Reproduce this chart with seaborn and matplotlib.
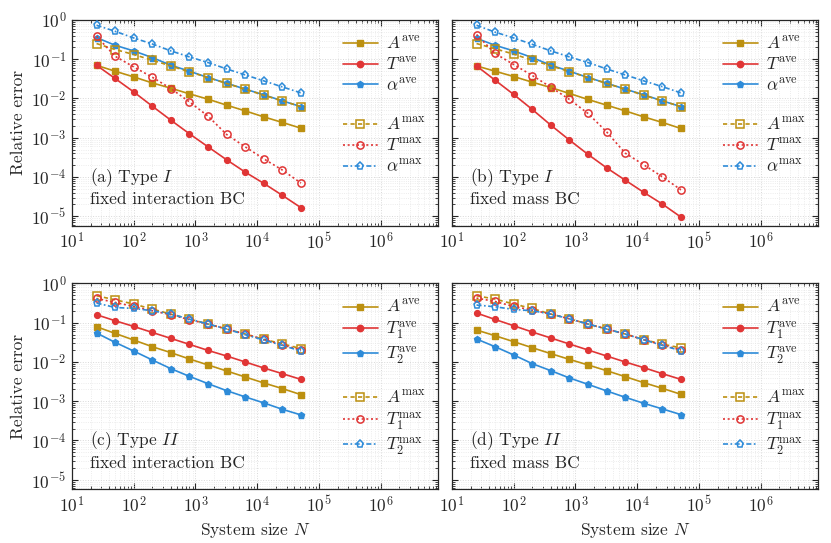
import numpy as np
import pandas as pd
import matplotlib
matplotlib.use("Agg")
import matplotlib.pyplot as plt
from matplotlib.lines import Line2D
from matplotlib.ticker import LogLocator, NullFormatter
import seaborn as sns

# system sizes
N = [25, 50, 100, 200, 400, 800, 1600, 3200, 6400, 12800, 25600, 51200]

# (a) type I, fixed interaction BC
a_A_ave = [0.070, 0.0495, 0.0355, 0.0249, 0.0183, 0.0131, 0.0096, 0.00676, 0.00483, 0.0034, 0.00245, 0.00175]
a_T_ave = [0.0703, 0.0323, 0.0147, 0.00637, 0.0028, 0.00126, 0.000586, 0.000274, 0.000133, 6.87e-5, 3.4e-5, 1.65e-5]
a_al_ave = [0.356, 0.227, 0.163, 0.110, 0.0703, 0.0495, 0.0342, 0.0245, 0.0173, 0.0124, 0.0087, 0.0062]
a_A_max = [0.251, 0.177, 0.132, 0.0944, 0.0676, 0.0475, 0.0342, 0.0241, 0.0173, 0.0121, 0.0087, 0.0062]
a_T_max = [0.385, 0.119, 0.0637, 0.0348, 0.0179, 0.00818, 0.00355, 0.00121, 0.000586, 0.00029, 0.00015, 7.0e-5]
a_al_max = [0.733, 0.515, 0.348, 0.245, 0.163, 0.1146, 0.0824, 0.0566, 0.0399, 0.0281, 0.0197, 0.0139]

# (b) type I, fixed mass BC
b_A_ave = [0.0676, 0.0495, 0.0363, 0.026, 0.019, 0.0134, 0.00944, 0.00676, 0.00483, 0.0034, 0.00245, 0.00172]
b_T_ave = [0.0676, 0.0292, 0.01265, 0.00525, 0.00209, 0.00087, 0.000376, 0.000171, 8.3e-5, 4.05e-5, 2.04e-5, 9.5e-6]
b_al_ave = [0.34, 0.227, 0.163, 0.110, 0.0703, 0.0495, 0.0342, 0.0245, 0.0173, 0.0124, 0.0087, 0.0062]
b_A_max = [0.251, 0.185, 0.135, 0.0944, 0.0685, 0.048, 0.0342, 0.0241, 0.0173, 0.0121, 0.0087, 0.0062]
b_T_max = [0.425, 0.14, 0.0733, 0.0385, 0.0194, 0.00944, 0.00415, 0.00141, 0.000405, 0.000204, 0.000101, 4.7e-5]
b_al_max = [0.733, 0.49, 0.348, 0.24, 0.163, 0.1146, 0.0824, 0.0566, 0.0399, 0.0281, 0.0200, 0.0139]

# (c) type II, fixed interaction BC
c_A_ave = [0.079, 0.0535, 0.0363, 0.0245, 0.0173, 0.0119, 0.0084, 0.0059, 0.00415, 0.00292, 0.0021, 0.00147]
c_T1_ave = [0.16, 0.1125, 0.0805, 0.0566, 0.0399, 0.0281, 0.0197, 0.0142, 0.0100, 0.00703, 0.00504, 0.0036]
c_T2_ave = [0.0547, 0.0316, 0.019, 0.01125, 0.00676, 0.0043, 0.0028, 0.00186, 0.00129, 0.000906, 0.000622, 0.000448]
c_A_max = [0.486, 0.385, 0.299, 0.223, 0.166, 0.124, 0.0927, 0.0692, 0.0516, 0.0376, 0.0292, 0.0218]
c_T1_max = [0.415, 0.329, 0.26, 0.202, 0.16, 0.119, 0.0927, 0.0692, 0.0516, 0.0376, 0.0271, 0.0202]
c_T2_max = [0.317, 0.245, 0.231, 0.202, 0.166, 0.124, 0.0927, 0.0692, 0.0495, 0.0363, 0.0264, 0.019]

# (d) type II, fixed mass BC
d_A_ave = [0.0652, 0.0467, 0.0329, 0.0231, 0.0163, 0.01164, 0.0084, 0.006, 0.00423, 0.00297, 0.00213, 0.0015]
d_T1_ave = [0.177, 0.121, 0.0839, 0.058, 0.0408, 0.0287, 0.0202, 0.0142, 0.0100, 0.00716, 0.00504, 0.0036]
d_T2_ave = [0.0385, 0.0245, 0.0151, 0.00906, 0.006, 0.00392, 0.00269, 0.00183, 0.00126, 0.000885, 0.000637, 0.000456]
d_A_max = [0.486, 0.401, 0.299, 0.231, 0.166, 0.126, 0.0927, 0.0692, 0.0516, 0.0369, 0.0287, 0.0227]
d_T1_max = [0.425, 0.348, 0.26, 0.21, 0.166, 0.126, 0.0927, 0.0692, 0.0516, 0.0369, 0.0271, 0.0202]
d_T2_max = [0.282, 0.255, 0.218, 0.202, 0.166, 0.126, 0.0927, 0.0692, 0.0516, 0.0369, 0.0264, 0.0194]

GOLD = "#BC9010"
RED = "#E03535"
BLUE = "#2E8BD8"
FS = 12.5

sns.set_style("ticks")
plt.rcParams.update({
    "font.family": "serif",
    "font.serif": ["cmr10", "DejaVu Serif"],
    "mathtext.fontset": "cm",
    "axes.formatter.use_mathtext": True,
    "axes.unicode_minus": False,
    "font.size": FS,
    "axes.labelsize": FS,
    "xtick.labelsize": FS,
    "ytick.labelsize": FS,
    "axes.linewidth": 0.9,
    "xtick.direction": "in",
    "ytick.direction": "in",
    "xtick.top": True,
    "ytick.right": True,
    "xtick.minor.visible": True,
    "ytick.minor.visible": True,
    "xtick.major.size": 4,
    "ytick.major.size": 4,
    "xtick.minor.size": 2,
    "ytick.minor.size": 2,
    "xtick.major.pad": 4,
    "ytick.major.pad": 4,
})

panels = [
    ("(a) Type $I$\nfixed interaction BC",
     [(a_A_ave, r"$A^{\rm ave}$", GOLD, "s"), (a_T_ave, r"$T^{\rm ave}$", RED, "o"), (a_al_ave, r"$\alpha^{\rm ave}$", BLUE, "p")],
     [(a_A_max, r"$A^{\rm max}$", GOLD, "s"), (a_T_max, r"$T^{\rm max}$", RED, "o"), (a_al_max, r"$\alpha^{\rm max}$", BLUE, "p")]),
    ("(b) Type $I$\nfixed mass BC",
     [(b_A_ave, r"$A^{\rm ave}$", GOLD, "s"), (b_T_ave, r"$T^{\rm ave}$", RED, "o"), (b_al_ave, r"$\alpha^{\rm ave}$", BLUE, "p")],
     [(b_A_max, r"$A^{\rm max}$", GOLD, "s"), (b_T_max, r"$T^{\rm max}$", RED, "o"), (b_al_max, r"$\alpha^{\rm max}$", BLUE, "p")]),
    ("(c) Type $II$\nfixed interaction BC",
     [(c_A_ave, r"$A^{\rm ave}$", GOLD, "s"), (c_T1_ave, r"$T_1^{\rm ave}$", RED, "o"), (c_T2_ave, r"$T_2^{\rm ave}$", BLUE, "p")],
     [(c_A_max, r"$A^{\rm max}$", GOLD, "s"), (c_T1_max, r"$T_1^{\rm max}$", RED, "o"), (c_T2_max, r"$T_2^{\rm max}$", BLUE, "p")]),
    ("(d) Type $II$\nfixed mass BC",
     [(d_A_ave, r"$A^{\rm ave}$", GOLD, "s"), (d_T1_ave, r"$T_1^{\rm ave}$", RED, "o"), (d_T2_ave, r"$T_2^{\rm ave}$", BLUE, "p")],
     [(d_A_max, r"$A^{\rm max}$", GOLD, "s"), (d_T1_max, r"$T_1^{\rm max}$", RED, "o"), (d_T2_max, r"$T_2^{\rm max}$", BLUE, "p")]),
]

max_styles = [(0, (2.5, 2.0)), (0, (1.2, 1.6)), (0, (3.0, 1.5, 1.0, 1.5))]

fig, axes = plt.subplots(2, 2, figsize=(8.31, 5.43), dpi=100)
fig.subplots_adjust(left=0.0866, right=0.9844, top=0.9632, bottom=0.0994,
                    wspace=0.038, hspace=0.282)

for ax, (title, ave, mx) in zip(axes.flat, panels):
    handles = []
    for vals, lab, col, mk in ave:
        df = pd.DataFrame({"N": N, "err": vals})
        sns.lineplot(data=df, x="N", y="err", ax=ax, color=col, marker=mk,
                     markersize=4.6 if mk != "o" else 4.2, markeredgecolor=col,
                     markeredgewidth=1.0, linewidth=1.2, zorder=3)
        handles.append(Line2D([], [], color=col, marker=mk, markersize=4.6,
                              markeredgecolor=col, linewidth=1.2, label=lab))
    handles.append(Line2D([], [], color="none", label=" "))
    for (vals, lab, col, mk), ls in zip(mx, max_styles):
        df = pd.DataFrame({"N": N, "err": vals})
        sns.lineplot(data=df, x="N", y="err", ax=ax, color=col, marker=mk,
                     markersize=5.2, markerfacecolor="none", markeredgecolor=col,
                     markeredgewidth=1.1, linewidth=1.2, linestyle=ls, zorder=4)
        handles.append(Line2D([], [], color=col, marker=mk, markersize=5.2,
                              markerfacecolor="none", markeredgecolor=col,
                              markeredgewidth=1.1, linewidth=1.2, linestyle=ls,
                              label=lab))

    ax.set_xscale("log")
    ax.set_yscale("log")
    ax.set_xlim(10, 8.5e6)
    ax.set_ylim(5.8e-6, 1)
    for axis in (ax.xaxis, ax.yaxis):
        axis.set_major_locator(LogLocator(base=10, numticks=20))
        axis.set_minor_locator(LogLocator(base=10, subs=np.arange(2, 10), numticks=20))
        axis.set_minor_formatter(NullFormatter())
    ax.grid(which="major", color="#d8d8d8", linestyle=":", linewidth=0.7)
    ax.grid(which="minor", color="#e6e6e6", linestyle=":", linewidth=0.6)
    ax.set_xlabel("")
    ax.set_ylabel("")
    ax.legend(handles=handles, loc="upper right", bbox_to_anchor=(1.0, 0.985),
              frameon=False, fontsize=FS, handlelength=2.0,
              handletextpad=0.5, labelspacing=0.22, borderaxespad=0.3)
    ax.text(0.05, 0.09, title, transform=ax.transAxes, fontsize=FS,
            ha="left", va="bottom", linespacing=1.25)

for ax in axes[:, 1]:
    ax.tick_params(axis="y", which="both", labelleft=False)
for ax in axes[:, 0]:
    ax.set_ylabel("Relative error")
for ax in axes[1, :]:
    ax.set_xlabel("System size $N$")

plt.savefig("out.png", dpi=100)
